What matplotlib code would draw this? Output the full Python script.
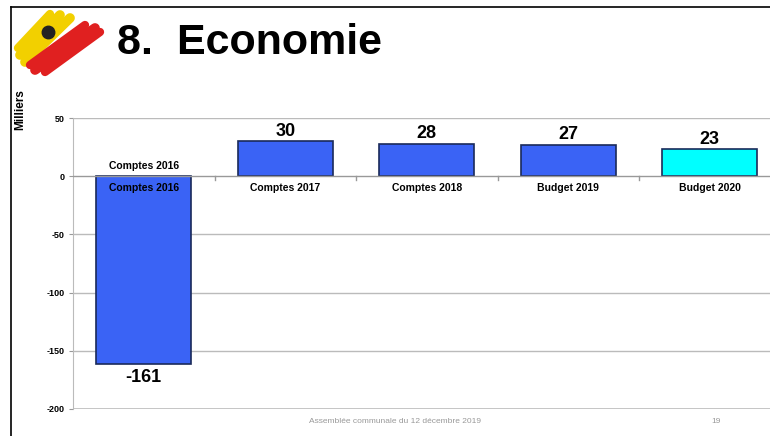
import matplotlib
matplotlib.use("Agg")
import matplotlib.pyplot as plt
from matplotlib.lines import Line2D

categories = ["Comptes 2016", "Comptes 2017", "Comptes 2018", "Budget 2019", "Budget 2020"]
values = [-161, 30, 28, 27, 23]
bar_colors = ["#3A63F5", "#3A63F5", "#3A63F5", "#3A63F5", "#00FFFF"]
yticks = [50, 0, -50, -100, -150, -200]

plt.rcParams['font.family'] = ['Liberation Sans', 'DejaVu Sans']

fig = plt.figure(figsize=(7.7, 4.36), dpi=100)
W, H = 770, 436

def fx(x):
    return x / W

def fy(y):
    return 1 - y / H

# slide border
fig.add_artist(Line2D([fx(10.5), fx(10.5)], [fy(7), fy(436)], color="black", lw=1.2))
fig.add_artist(Line2D([fx(10.5), fx(770)], [fy(7.5), fy(7.5)], color="black", lw=1.2))

# simple logo scribble
for (x0, y0, x1, y1, c, w) in [
    (20, 55, 60, 15, "#F2D000", 7), (25, 62, 70, 18, "#F2D000", 7), (18, 48, 50, 14, "#F2D000", 6),
    (35, 70, 95, 28, "#E02020", 7), (45, 72, 100, 32, "#E02020", 6), (30, 65, 85, 25, "#E02020", 6),
]:
    fig.add_artist(Line2D([fx(x0), fx(x1)], [fy(y0), fy(y1)], color=c, lw=w, solid_capstyle="round"))
fig.add_artist(Line2D([fx(48)], [fy(32)], marker="o", color="#222222", markersize=9))

fig.text(fx(117), fy(43), "8.  Economie", fontsize=31, fontweight="bold", va="center", ha="left")
fig.text(fx(20), fy(110), "Milliers", fontsize=8.5, fontweight="bold", rotation=90, va="center", ha="center")
fig.text(fx(395), fy(421), "Assemblée communale du 12 décembre 2019", fontsize=6, color="#999999", ha="center", va="center")
fig.text(fx(716), fy(421), "19", fontsize=6, color="#999999", ha="center", va="center")

ax = fig.add_axes([fx(73), fy(409), (780.5 - 73) / W, (409 - 118) / H])
x = list(range(len(categories)))
ax.bar(x, values, width=0.67, color=bar_colors, edgecolor="#1A2A5A", linewidth=1.2, zorder=3)
ax.set_xlim(-0.5, len(categories) - 0.5)
ax.set_ylim(-200, 50)
ax.set_yticks(yticks)
ax.set_yticklabels([str(t) for t in yticks], fontsize=6.5, fontweight="bold")
ax.tick_params(axis="y", length=3, color="#999999", pad=3)
ax.set_xticks([])
for t in yticks:
    if t not in (0, -200):
        ax.axhline(t, color="#BBBBBB", lw=1.0, zorder=1)
ax.axhline(0, color="#999999", lw=1.0, zorder=4)
for s in ["top", "right", "bottom"]:
    ax.spines[s].set_visible(False)
ax.spines["left"].set_color("#BBBBBB")
ax.axhline(-200, color="#BBBBBB", lw=1.2, zorder=1)
# small separator ticks on zero line
for i in range(1, len(categories)):
    ax.plot([i - 0.5, i - 0.5], [0, -3], color="#999999", lw=1, zorder=4)

for i, (c, v) in enumerate(zip(categories, values)):
    ax.text(i, -10.5, c, fontsize=7.5, fontweight="bold", ha="center", va="center", zorder=5)
    if v >= 0:
        ax.text(i, v + 1.5, str(v), fontsize=13, fontweight="bold", ha="center", va="bottom", zorder=5)
    else:
        ax.text(i, v - 4.5, str(v), fontsize=13, fontweight="bold", ha="center", va="top", zorder=5)
ax.text(0, 8.5, categories[0], fontsize=7.5, fontweight="bold", ha="center", va="center", zorder=5)

fig.savefig("out.png", dpi=100)
